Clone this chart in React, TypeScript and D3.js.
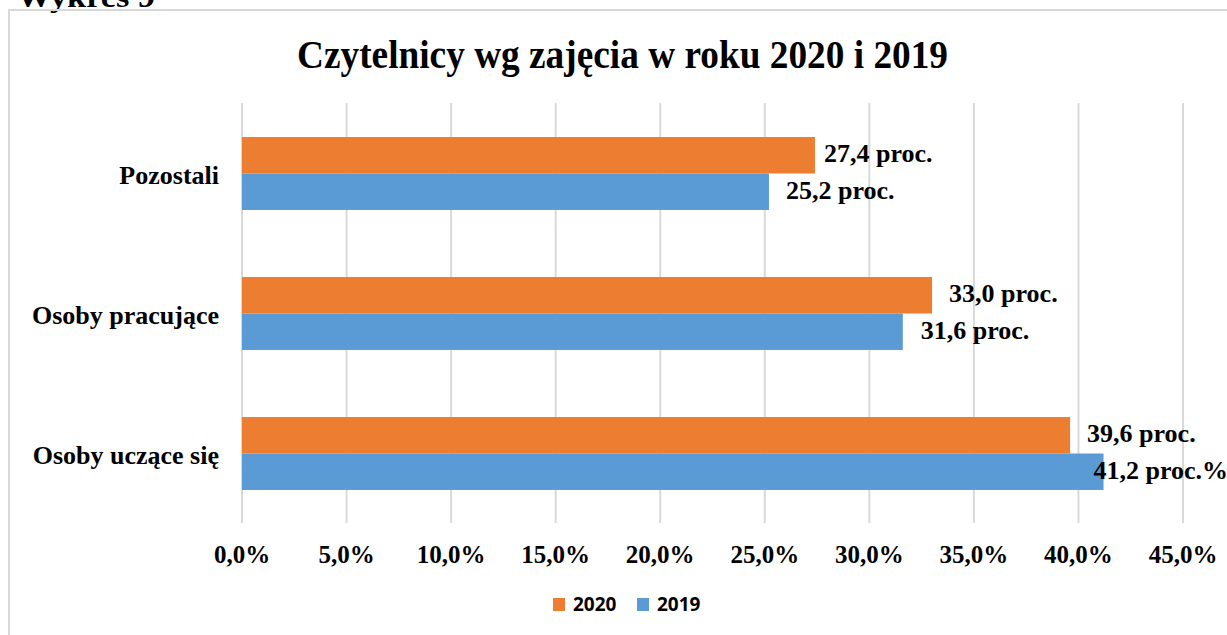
import React from "react";
import * as d3 from "d3";

const categories = ["Pozostali", "Osoby pracujące", "Osoby uczące się"];
const series = ["2020", "2019"];
const values2020 = [27.4, 33.0, 39.6];
const values2019 = [25.2, 31.6, 41.2];
const labels2020 = ["27,4 proc.", "33,0 proc.", "39,6 proc."];
const labels2019 = ["25,2 proc.", "31,6 proc.", "41,2 proc.%"];
const xTicks = [0, 5, 10, 15, 20, 25, 30, 35, 40, 45];
const titleText = "Czytelnicy wg zajęcia w roku  2020 i 2019";
const headingText = "Wykres 9";

// layout nudges for data labels (px from bar end)
const labelDx2020 = [9, 17, 17];
const labelDx2019 = [17, 18, -10];

const W = 1227;
const H = 635;
const colors: Record<string, string> = { "2020": "#ED7D31", "2019": "#5B9BD5" };
const serif = "'Liberation Serif', 'Times New Roman', serif";
const sans = "'Open Sans', 'Liberation Sans', sans-serif";

const locale = d3.formatLocale({ decimal: ",", thousands: " ", grouping: [3], currency: ["", ""] });
const fmtTick = (v: number) => locale.format(".1f")(v) + "%";

export default function App() {
  const x = d3.scaleLinear().domain([0, 45]).range([242, 1183]);
  const y = d3.scaleBand<string>().domain(categories).range([103.5, 523.5]).paddingInner(0.479).paddingOuter(0.2395);
  const ys = d3.scaleBand<string>().domain(series).range([0, y.bandwidth()]);
  const valuesBy: Record<string, number[]> = { "2020": values2020, "2019": values2019 };
  const labelsBy: Record<string, string[]> = { "2020": labels2020, "2019": labels2019 };
  const dxBy: Record<string, number[]> = { "2020": labelDx2020, "2019": labelDx2019 };

  return (
    <svg width={W} height={H} style={{ position: "absolute", left: 0, top: 0, background: "#fff" }}>
      <rect x={0} y={0} width={W} height={H} fill="#fff" />
      <text x={17} y={7} fontFamily={serif} fontWeight="bold" fontSize={30} textLength={138} lengthAdjust="spacingAndGlyphs" fill="#000">
        {headingText}
      </text>
      <rect x={9} y={10} width={W + 20} height={H + 20} fill="none" stroke="#d9d9d9" strokeWidth={2} />
      <text x={622.5} y={68} textAnchor="middle" fontFamily={serif} fontWeight="bold" fontSize={39} textLength={651} lengthAdjust="spacingAndGlyphs" fill="#000">
        {titleText}
      </text>
      {xTicks.map((t) => (
        <line key={"g" + t} x1={x(t)} x2={x(t)} y1={103} y2={523} stroke="#d9d9d9" strokeWidth={2} />
      ))}
      {categories.map((c, i) => (
        <g key={c}>
          {series.map((s) => {
            const v = valuesBy[s][i];
            const by = (y(c) as number) + (ys(s) as number);
            return (
              <g key={s}>
                <rect x={x(0)} y={by} width={x(v) - x(0)} height={ys.bandwidth()} fill={colors[s]} />
                <text x={x(v) + dxBy[s][i]} y={by + ys.bandwidth() / 2 + 7} fontFamily={serif} fontWeight="bold" fontSize={26} fill="#000">
                  {labelsBy[s][i]}
                </text>
              </g>
            );
          })}
          <text x={219} y={(y(c) as number) + y.bandwidth() / 2 + 10} textAnchor="end" fontFamily={serif} fontWeight="bold" fontSize={26} fill="#000">
            {c}
          </text>
        </g>
      ))}
      {xTicks.map((t) => (
        <text key={"t" + t} x={x(t)} y={563} textAnchor="middle" fontFamily={serif} fontWeight="bold" fontSize={25} fill="#000">
          {fmtTick(t)}
        </text>
      ))}
      <g>
        {series.map((s, i) => {
          const lx = 553 + i * 84;
          return (
            <g key={"l" + s}>
              <rect x={lx} y={598} width={12} height={13} fill={colors[s]} />
              <text x={lx + 20} y={611} fontFamily={sans} fontWeight="bold" fontSize={19} fill="#000">
                {s}
              </text>
            </g>
          );
        })}
      </g>
    </svg>
  );
}
